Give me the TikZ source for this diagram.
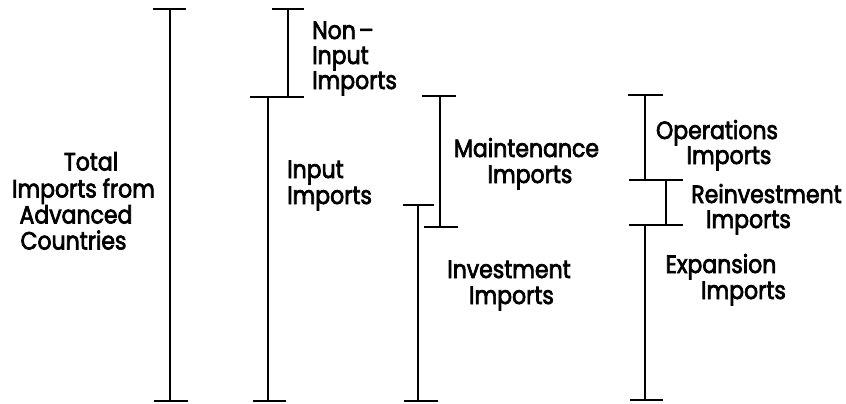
\documentclass[tikz,border=0pt]{standalone}
\usepackage{fontspec}
\newfontfamily\lblfont[FakeBold=2.8,FakeStretch=0.88]{Poppins}
\begin{document}
\begin{tikzpicture}[x=1pt,y=-1pt,
  bar/.style={line width=2.6pt},
  lbl/.style={font=\lblfont\fontsize{25}{26}\selectfont, inner sep=0pt, anchor=base},
  lbll/.style={lbl, anchor=base west}]
\useasboundingbox (0,0) rectangle (846,404);
% Total
\draw[bar] (170,9) -- (170,401);
\draw[bar] (153,9) -- (186,9);
\draw[bar] (154,401) -- (188,401);
% Non-input
\draw[bar] (288,9) -- (288,97);
\draw[bar] (272,9) -- (304,9);
\draw[bar] (250,97) -- (304,97);
% Input
\draw[bar] (268,97) -- (268,401);
\draw[bar] (253,401) -- (286,401);
% Maintenance
\draw[bar] (440,96) -- (440,227);
\draw[bar] (422,96) -- (456,96);
\draw[bar] (424,227) -- (458,227);
% Investment
\draw[bar] (418,205) -- (418,401);
\draw[bar] (403,205) -- (434,205);
\draw[bar] (404,401) -- (438,401);
% Operations
\draw[bar] (645,95) -- (645,180);
\draw[bar] (628,95) -- (663,95);
\draw[bar] (629,180) -- (683,180);
% Reinvestment
\draw[bar] (666,180) -- (666,225);
\draw[bar] (629,225) -- (683,225);
% Expansion
\draw[bar] (645,225) -- (645,400);
\draw[bar] (630,400) -- (663,400);
% labels
\node[lbl] (t1) at (91,170.5) {Total};
\node[lbl] (t2) at (83.5,197.5) {Imports from};
\node[lbl] (t3) at (76,223.5) {Advanced};
\node[lbl] (t4) at (73.5,249.5) {Countries};
\node[lbll] (n1) at (312,39) {Non\kern3pt–};
\node[lbll] (n2) at (312,64) {Input};
\node[lbll] (n3) at (312,89) {Imports};
\node[lbll] (i1) at (287,178) {Input};
\node[lbll] (i2) at (287,204) {Imports};
\node[lbl] (m1) at (526.5,157) {Maintenance};
\node[lbl] (m2) at (530,183) {Imports};
\node[lbl] (v1) at (509,278) {Investment};
\node[lbl] (v2) at (511.5,304) {Imports};
\node[lbl] (o1) at (717,139) {Operations};
\node[lbl] (o2) at (729,164) {Imports};
\node[lbl] (r1) at (766.5,203) {Reinvestment};
\node[lbl] (r2) at (748.5,228) {Imports};
\node[lbl] (e1) at (721,273) {Expansion};
\node[lbl] (e2) at (743.5,299) {Imports};
\end{tikzpicture}
\end{document}
